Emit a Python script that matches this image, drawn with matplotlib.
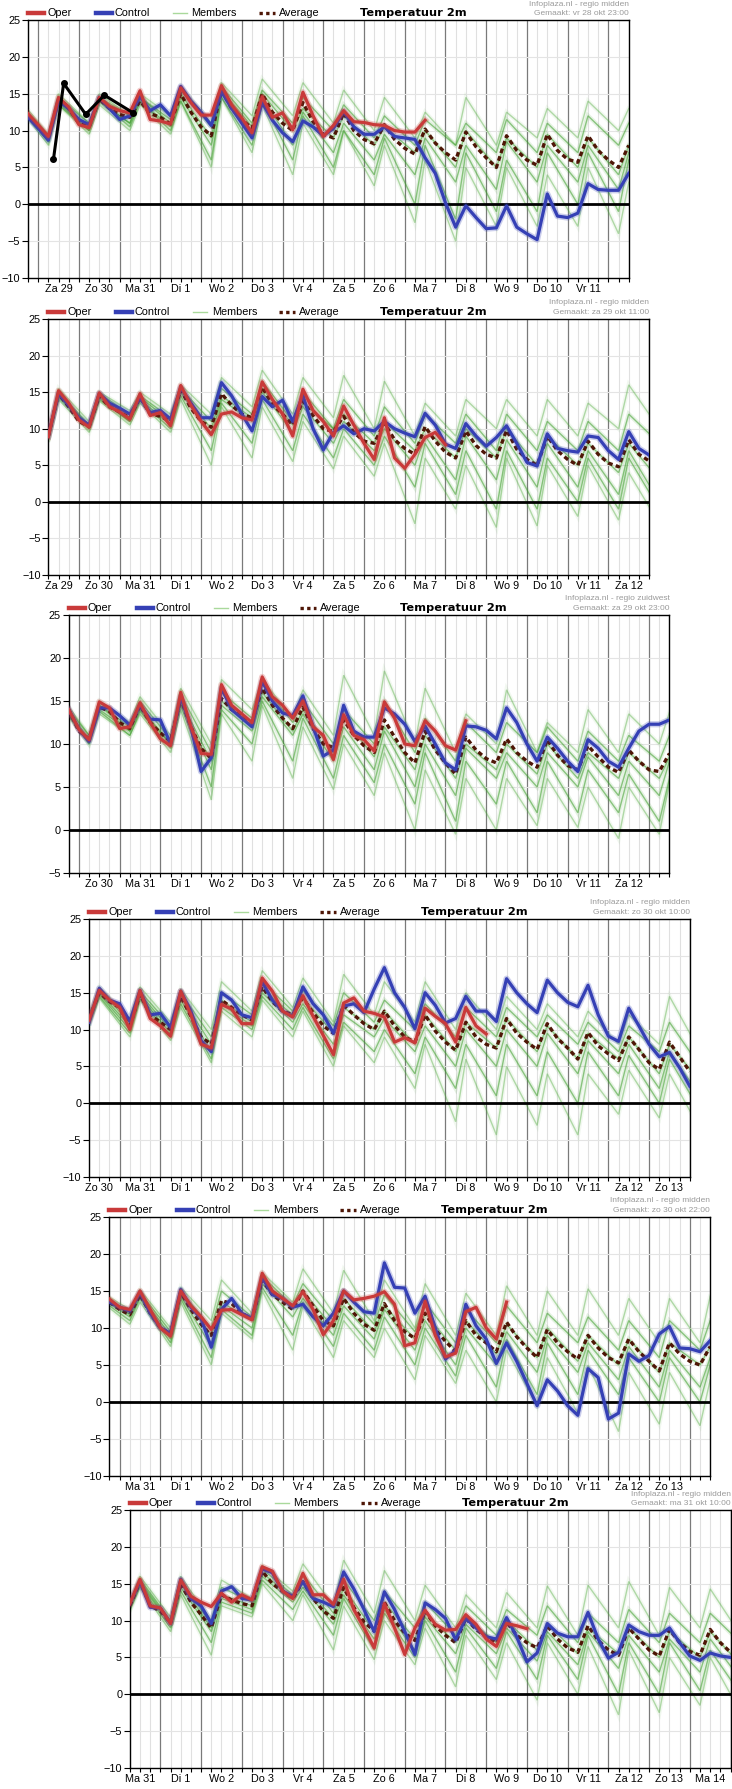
import numpy as np
import matplotlib
matplotlib.use("Agg")
import matplotlib.pyplot as plt
from matplotlib import font_manager as fm
from matplotlib.lines import Line2D

W, H, DPI = 732, 1789, 100


def pick_font(*names):
    for n in names:
        try:
            fm.findfont(fm.FontProperties(family=n), fallback_to_default=False)
            return n
        except ValueError:
            continue
    return "DejaVu Sans"


BODY = pick_font("Liberation Sans", "Arial", "DejaVu Sans")
plt.rcParams["font.family"] = [BODY, "DejaVu Sans"]

# ---- shared axis info (hours since Za 29 00:00) ----
day_labels = ["Za 29", "Zo 30", "Ma 31", "Di 1", "Wo 2", "Do 3", "Vr 4", "Za 5", "Zo 6",
              "Ma 7", "Di 8", "Wo 9", "Do 10", "Vr 11", "Za 12", "Zo 13", "Ma 14"]
run_start = [-6, 6, 18, 30, 42, 54]          # first 6-hourly step of each run
y_bottom = [-10, -10, -5, -10, -10, -10]
regions = ["regio midden", "regio midden", "regio zuidwest", "regio midden", "regio midden", "regio midden"]
made = ["vr 28 okt 23:00", "za 29 okt 11:00", "za 29 okt 23:00", "zo 30 okt 10:00",
        "zo 30 okt 22:00", "ma 31 okt 10:00"]
member_first_day = [-1, 0, 0, 1, 1, 2]       # members given as (06h, 12h) pairs per day

# ---- run 1 : vr 28 okt 23:00 ----
oper_1 = [12.3, 10.8, 9.2, 14.5, 13.2, 10.8, 10.4, 14.5, 13.3, 12.7, 12.4, 15.4, 11.5, 11.3, 10.9, 15.8,
          13.8, 12.1, 12.1, 16.1, 13.5, 11.7, 9.7, 14.6, 11.8, 12.4, 10.1, 15.2, 12, 9.2, 10.7, 12.7,
          11.2, 11.1, 10.8, 10.7, 10, 9.8, 9.8, 11.4]
ctrl_1 = [11.8, 10.3, 8.7, 14, 13, 11.5, 10.8, 14.5, 13, 11.5, 12, 14.6, 12.7, 13.5, 12, 16, 14, 12.5,
          10.7, 15.3, 13, 11, 9, 13.8, 11.4, 9.7, 8.5, 11.3, 10.5, 9.3, 10.3, 12.6, 10.5, 9.5, 9.5, 10.5,
          9.2, 9, 8.8, 6.3, 4.2, 0.2, -3.1, -0.2, -1.8, -3.3, -3.2, -0.2, -3.1, -4, -4.8, 1.4, -1.6,
          -1.8, -1.2, 2.8, 2, 1.9, 1.9, 4.2]
avg_1 = [12, 10.5, 9, 14.2, 13, 11, 10.5, 14.3, 13, 12.2, 11.8, 14, 12.3, 11.8, 10.9, 15, 12.5, 10.5,
         9.3, 15.5, 13, 11.5, 10.3, 15, 12.5, 11, 10, 13.8, 11.2, 9.5, 9, 12.4, 10, 8.8, 8.2, 10.8, 8.8,
         7.6, 6.8, 10.2, 8.3, 7, 6, 9.8, 7.8, 6.3, 5, 9.3, 7.3, 6, 5.3, 9.5, 7.3, 6.1, 5.7, 9.3, 7.3,
         6, 5, 8]
members_1 = [
    [10, 14.5, 9.5, 15, 11, 15, 12, 15, 12, 16, 11, 16.5, 12, 17, 12, 16.5, 11, 15.5, 10, 14.5, 9, 12.5, 8, 14.5, 8, 12.5, 9, 13, 9, 14, 10, 13],
    [10, 14, 9, 14.5, 11, 14.5, 12, 14.5, 11.5, 15.5, 10.5, 16, 11, 15.5, 11, 14.5, 10, 13.5, 9, 12, 8, 11.5, 8, 11, 7, 11.5, 7, 11, 7, 12, 8, 11],
    [10, 14, 9, 14, 10.5, 14, 11, 14.5, 11, 15, 9, 15.5, 10.5, 15, 10, 13, 9, 12, 8, 10.5, 7, 10, 5, 10, 5, 9, 5, 9.5, 5, 9, 4, 8],
    [10, 13.5, 8.5, 13.8, 10, 14, 11, 14, 10.5, 14.5, 8, 15, 9.5, 14.5, 8, 12.5, 7, 11, 6, 9.5, 4, 9, 3, 8, 2, 8.5, 3, 8, 3, 8, 2, 7],
    [10, 13.5, 8.5, 13.5, 10, 14, 10.5, 14, 10, 14, 6, 14.5, 8, 14, 6, 12, 5, 10, 4, 9, 0, 8, -2, 7, -1, 6, -1, 7, 0, 7, -1, 6],
    [10, 13.5, 8, 13.5, 9.5, 13.5, 10, 13.5, 9.5, 14, 5, 14.5, 7, 13.5, 4, 11, 4, 10, 2.5, 8, -2.5, 6, -5, 5, -3, 5, -3, 4, -3, 5, -4, 3],
]
obs_hours_1 = [9, 15, 28, 39, 56]
obs_temp_1 = [6.1, 16.4, 12.2, 14.8, 12.4]

# ---- run 2 : za 29 okt 11:00 ----
oper_2 = [8.9, 15.2, 13.5, 11.2, 10.2, 14.9, 13, 12.3, 11.3, 14.8, 11.8, 12.2, 10.4, 15.9, 13.2, 11, 9.2,
          12, 12.3, 11.5, 11.2, 16.4, 14, 12, 9, 15.4, 12.5, 11, 9, 13.1, 10.5, 8, 5.8, 11.5, 6, 4.6, 6.5,
          8.8, 9.5, 7.8]
ctrl_2 = [9, 14.8, 13.2, 11.5, 10.5, 14.8, 13.5, 12.8, 12, 14.2, 12.2, 12.5, 11.3, 15.6, 13.5, 11.5, 11.5,
          16.3, 14.5, 12, 9.7, 14.4, 13, 13.9, 11, 14.6, 10, 7.1, 9.5, 10.4, 9.3, 10, 9.7, 11, 10, 9.4, 8.9,
          12.1, 10.5, 7.9, 7.3, 10.7, 9, 7.6, 8.8, 10.4, 8, 5.4, 4.9, 9.3, 7.3, 7, 6.8, 9, 8.8, 7, 5.8,
          9.6, 7.3, 6.4]
avg_2 = [9, 14.8, 13, 11, 10.3, 14.5, 13, 12.3, 11.5, 14.3, 12, 11.7, 11, 15.3, 12.8, 11, 10.2, 14.8,
         13.2, 12, 11.5, 15.7, 13.3, 12, 10.5, 13.8, 11.8, 10, 9.6, 11.7, 9.5, 8.3, 8, 10.8, 8.5, 7.3, 6.5,
         10.3, 8.3, 6.8, 6, 9.7, 7.7, 6.5, 6, 9.8, 7.2, 5.8, 5, 9, 7, 5.8, 5, 8.3, 6.5, 5.3, 4.8, 8.5,
         6.5, 5.6]
members_2 = [
    [9.5, 15.5, 11, 15, 12.5, 15, 12, 16, 12, 17, 13, 18, 12, 17, 11.5, 17.3, 10, 16.5, 9, 13.5, 9, 14, 10, 14, 9, 14, 9, 13.5, 10, 16, 10, 15],
    [9, 15, 10.5, 14.8, 12, 14.5, 11.5, 15.5, 11, 15.5, 12, 16.5, 11, 15, 10, 14, 9, 13, 8, 12, 8, 12, 7, 12, 7, 11, 7, 11, 7, 12, 8, 12],
    [9, 14.8, 10.3, 14.5, 11.5, 14.3, 11, 15.3, 10, 14.5, 11.5, 15.5, 10.5, 13.5, 10, 12, 8, 11, 7, 10, 6, 10, 6, 10, 5, 9, 5, 8, 4, 8, 3, 7],
    [8.5, 14.5, 10, 14.2, 11, 14, 10.5, 15, 9, 14, 11, 15, 9.5, 13, 8, 11, 7, 10, 5, 9, 3, 9, 3, 8.5, 2, 8, 2, 7, 1, 7, 0, 5],
    [8.5, 14.3, 10, 14, 11, 13.8, 10, 14.5, 7, 13.5, 8, 14, 7, 12, 6, 10, 5, 9, 2, 8, 1, 7, -1, 7, -1, 6, 0, 6, -1, 6, -1, 5],
    [8.5, 14, 9.5, 13.8, 10.5, 13.5, 9.5, 14, 5, 13, 6, 13, 5.5, 11, 4.5, 9, 3.5, 8, -3, 6, -1, 5, -3.5, 6, -3.3, 5, -2, 5, -2.5, 4, -3, 3],
]

# ---- run 3 : za 29 okt 23:00 (zuidwest) ----
oper_3 = [14, 11.7, 10.5, 14.9, 14.2, 11.8, 12, 14.8, 12.5, 10.6, 9.8, 16, 12, 8.9, 8.8, 16.9, 14.5, 13.5,
          12.5, 17.8, 15.5, 14.5, 13, 15, 12, 11, 8.2, 13.4, 11, 10.5, 9.2, 14.9, 13, 10, 9.8, 12.7, 11.5,
          9.8, 9.3, 12.7]
ctrl_3 = [14, 11.7, 10.3, 14.2, 14.2, 13.3, 12.2, 14.5, 12.9, 12.8, 10, 15.5, 12, 6.8, 8.4, 16.5, 14, 13,
          12, 17.3, 15, 13.6, 13.3, 15.6, 12, 8.6, 9.3, 14.5, 11.5, 10.8, 10.8, 14.2, 13.5, 12.3, 10.3, 12.1,
          10, 7.8, 7, 12.1, 12, 11.6, 10.6, 14.2, 12.5, 10, 8, 10.8, 9.5, 8, 6.8, 10.5, 9.5, 8, 7.3, 9.5,
          11.5, 12.3, 12.3, 12.8]
avg_3 = [14, 11.5, 10.6, 14.3, 13.8, 12.5, 11.8, 14.5, 12.5, 11.3, 10.3, 15.3, 12, 9.5, 8.3, 15.3, 14,
         13.3, 12.5, 16.5, 14.5, 13, 11.8, 14.3, 11.8, 10, 9.6, 12.8, 11, 9.8, 9, 12.8, 10.8, 9, 7.8, 11.5,
         9.3, 7.8, 6.5, 10.8, 9.3, 8.3, 7.8, 10.6, 9, 8, 7.3, 10.5, 8.7, 7.5, 7, 9.8, 8.5, 7.3, 6.7, 9.3,
         8, 7, 6.8, 8.9]
members_3 = [
    [9.5, 16, 11, 15, 12.5, 15.5, 11, 16.5, 10, 17.5, 14, 17.5, 13, 16.3, 11, 18, 11, 18.5, 10, 16.5, 9, 13.5, 10, 16.3, 9, 12.5, 9, 14, 9, 13.5, 10, 13.7],
    [9, 15.5, 11, 14.5, 12, 15, 10.5, 15.8, 9, 16, 13, 17, 12.5, 15, 10, 14, 10, 15, 9, 13, 8, 12.5, 9, 12.5, 9, 12, 8, 11.5, 8, 11, 8, 11],
    [9, 15.3, 10.5, 14.5, 11.5, 14.3, 10, 15, 8, 15, 12, 16, 11.5, 14, 9, 13, 8.5, 12, 7, 11, 6, 10, 7, 10, 6.5, 10, 6, 9, 6, 9, 6, 8.5],
    [8.8, 15, 10.3, 14, 11.5, 14, 10, 14.8, 7, 14.5, 11.5, 15.5, 11, 13.5, 8, 12, 7, 11.5, 5, 10, 4, 9.5, 6, 9, 5, 9, 5, 8.5, 4, 8, 4, 8],
    [8.5, 15, 10, 13.8, 11, 13.8, 9.5, 14.5, 5, 14, 10, 15, 8, 13, 6, 11, 5.5, 10, 3, 9, 1, 8, 3, 8, 2, 8, 2, 7, 2, 6.5, 1, 6],
    [8.5, 14.8, 10, 13.5, 11, 13.5, 9, 14, 3.5, 13.5, 8, 14.5, 6, 12, 4.7, 10, 4, 9, 0, 7, -0.5, 6, 0, 6, 0.5, 6, 0.3, 5, -1, 5, -0.5, 5.5],
]

# ---- run 4 : zo 30 okt 10:00 ----
oper_4 = [11.3, 15.3, 14, 13, 10, 15.3, 11.5, 10.5, 9.1, 15.2, 12, 8, 7.5, 13.4, 12.8, 10.8, 10.8, 17, 15.2,
          12.5, 11.7, 14.6, 11.8, 9.2, 6.6, 13.6, 14.3, 12.5, 12.2, 11.7, 8.3, 8.9, 8.2, 12.9, 11.8, 10.8,
          8.3, 13, 10.5, 9.4]
ctrl_4 = [11, 15.6, 14, 13.5, 11.1, 15.3, 12, 12.2, 10.3, 15.2, 12.5, 8.5, 7, 15, 14, 12, 11.6, 16.5, 14,
          12.5, 11.8, 15.8, 13.5, 12, 9.5, 13.2, 13.5, 12.3, 15.5, 18.4, 15, 13, 10.1, 15, 13.3, 10.9, 11.5,
          14.5, 12.5, 12.5, 11.1, 16.9, 15, 13.5, 12.3, 16.7, 15, 13.7, 13.1, 16, 12, 9.1, 8.4, 12.9, 10.5,
          8, 6.3, 6.9, 4.8, 2.3]
avg_4 = [11.5, 15, 13.8, 13, 10.5, 14.8, 12, 11, 10, 14.5, 11.8, 9, 8, 14, 13, 12, 11.3, 15.8, 13.8, 12.5,
         12, 14.3, 12.3, 10.5, 9.5, 13.3, 12, 10.8, 10, 12.5, 10.5, 9, 8.3, 12, 9.8, 8.3, 7.2, 11, 9, 8,
         7.5, 11.5, 9.5, 8.3, 7.3, 10.8, 8.8, 7.5, 6, 9.6, 7.8, 6.7, 5.8, 9, 7.3, 5.5, 4.6, 8.3, 6.3, 4.3]
members_4 = [
    [12, 15.8, 11.5, 15.8, 11, 15.5, 10, 16.5, 12.5, 18, 13, 17, 11, 17.5, 12, 16.5, 11, 16.5, 10, 15, 10, 14.5, 10, 13.5, 9, 12.5, 8, 12, 8, 14.5, 7, 12],
    [11.5, 15.3, 11, 15.2, 10.5, 15, 9, 15, 12, 16.5, 12.5, 15.3, 10.5, 15, 11, 14, 10, 13.5, 9, 13, 9, 13, 9, 12, 8, 11, 7, 10.5, 7, 11, 5, 10],
    [11.3, 15, 10.5, 14.8, 10, 14.5, 8, 14, 11, 15.5, 12, 14.3, 9.5, 13, 10, 12.5, 8, 12, 7, 11, 7.5, 11.5, 7, 10.5, 6, 9.5, 6, 9, 4, 8, 3, 7],
    [11, 14.8, 10, 14.5, 9.5, 14, 7, 13.5, 10.5, 15, 11, 13.5, 8, 12, 9, 11.5, 7, 10.5, 5, 10, 5, 10, 5, 9.5, 4, 8.5, 4, 8, 2, 7, 1, 6],
    [10.8, 14.5, 9.5, 14.2, 9, 13.5, 6, 13, 10, 14.5, 10, 13, 6, 11, 7, 10, 4, 9, 2, 8, 1, 8, 1, 7, 0, 7, 1, 6.5, 0, 6, -1, 5],
    [10.5, 14.3, 9, 14, 8.5, 13, 5.5, 12.5, 9, 14, 9, 12.5, 5, 10.5, 5.5, 9, 2, 8, -2.5, 6, -4.3, 5, -3, 4, -4.3, 4, -1.5, 4.5, -2, 4, -3.5, 3],
]

# ---- run 5 : zo 30 okt 22:00 ----
oper_5 = [13.9, 12.8, 12.5, 15, 12.5, 10, 8.9, 15, 13, 11.5, 9.8, 12.4, 12.5, 11.8, 11.1, 17.4, 15, 14, 13,
          14.9, 12.5, 9.1, 11, 15, 13.8, 14, 14.3, 14.9, 13.2, 7.6, 8, 13.6, 9, 6.1, 6.6, 12.2, 12.8, 10,
          8.5, 13.5]
ctrl_5 = [13.5, 12.8, 12.3, 14.8, 12, 10, 9.3, 15.2, 12.8, 11.3, 7.4, 12.5, 14, 12, 11.3, 16.8, 14.5, 14,
          12.8, 13.2, 11.5, 10.3, 12, 15, 13.5, 12.2, 12, 18.8, 15.5, 15.4, 12, 14.3, 10, 5.8, 7, 13.2, 10.3,
          8.5, 5.2, 8, 5.5, 2.5, -0.5, 3, 1.5, -0.5, -1.8, 4.5, 3.3, -2.3, -1.5, 6.5, 5.5, 6.3, 9.2, 10.2,
          7.3, 7.2, 6.8, 8.3]
avg_5 = [13.5, 12.5, 11.8, 14.5, 12, 10, 9.2, 14.8, 12.5, 10.5, 9, 13.7, 13.3, 12, 11.2, 16.5, 14.5, 13.5,
         12.5, 15, 13, 11, 10.3, 14, 12, 10.5, 9.7, 13.3, 11, 9.5, 8.6, 12, 9.8, 8.2, 6.8, 11, 9, 8, 6.8,
         10.8, 8.8, 7.3, 6, 9.8, 8, 6.8, 5.8, 9, 7.3, 6, 5.3, 8.5, 6.8, 5.5, 4.2, 8, 6.5, 5.5, 5, 7.5]
members_5 = [
    [11.5, 15, 12.5, 15.2, 10, 15.5, 11, 16.5, 12, 17.5, 13.5, 18, 12, 17.8, 11, 16.5, 10, 16, 9, 14.7, 9, 15.7, 9, 15, 9, 15.3, 9, 14, 8, 14, 8, 14.3],
    [11.2, 14.7, 12, 14.8, 9.5, 15, 10, 15, 11.5, 17, 13, 16, 11, 15, 10.5, 14.5, 9.5, 13.5, 8, 12.5, 8, 13, 8, 12, 8, 11.5, 7, 11, 6, 11, 7, 11],
    [11, 14.4, 11.8, 14.5, 9, 14.7, 9, 13.5, 11, 16.5, 12.5, 15, 10, 14, 9.5, 13, 8.5, 12, 7, 11, 6.5, 10.5, 6, 10, 5.5, 9, 5, 8.5, 4, 8, 5, 7.5],
    [10.8, 14.2, 11.5, 14.2, 8.5, 14.3, 7.5, 13, 10, 16, 11.5, 14, 9, 13, 8.5, 12.5, 7, 11, 5, 10, 5, 9.5, 4, 9, 4, 8, 3, 7.5, 2, 7, 2, 6],
    [10.5, 14, 11, 14, 8, 14, 6, 12.5, 9, 15.5, 9, 13.5, 7.5, 12, 7, 11.5, 5, 10, 3.5, 9, 2, 8.5, 1, 8, 1, 7, 1, 6, 0, 6, 0, 5],
    [10.3, 13.8, 10.5, 13.5, 7.5, 13.5, 5, 12, 8.5, 15, 7, 13, 6, 11, 6, 10, 3, 9, 2.5, 7, 0, 7, -0.5, 6, -1.5, 5, -4, 4, -3, 4, -3.2, 3],
]

# ---- run 6 : ma 31 okt 10:00 ----
oper_6 = [12.3, 15.6, 12, 11.7, 9.6, 15.5, 13.3, 12.5, 11.9, 13.7, 12.5, 13.5, 12.8, 17.3, 16.7, 14, 13, 16.4,
          13.5, 13.5, 12.2, 15.6, 11.5, 9, 6.3, 12.3, 9, 5.4, 9, 11.4, 9.5, 8.7, 8.8, 10.8, 9.5, 7.5, 6.5,
          9.6, 9.3, 8.9]
ctrl_6 = [12.3, 15.3, 11.8, 11.7, 9.6, 15.6, 13, 12, 9.6, 14, 14.6, 13, 12.8, 17, 16.5, 14, 13.3, 15.3, 13,
          12.5, 11.9, 16.6, 14.3, 11.5, 8.5, 13.9, 11.5, 8.5, 5.4, 12.4, 11.5, 10.3, 7.4, 10.3, 9, 7.8, 7.5,
          10.4, 7.8, 4.4, 5.6, 9.6, 8.3, 7.8, 7.8, 11.1, 7.5, 4.9, 5.7, 9.4, 8.5, 8, 8, 9, 7, 5.2, 4.6,
          5.6, 5.2, 5]
avg_6 = [12, 15.3, 12, 11.3, 9.7, 15, 12.5, 10.8, 9, 13.5, 12.8, 12.3, 12, 16.7, 15, 14, 13, 15.3, 13, 11.3,
         10.3, 14.5, 11.8, 9.8, 8.6, 12.5, 10, 8.3, 7.3, 11.3, 9.3, 8, 7, 10.3, 8.8, 7.8, 7, 9.8, 8, 7, 6.3,
         9.3, 7.5, 6.3, 5.7, 9.3, 7.3, 6, 5.3, 9, 7.5, 6, 5.2, 8.8, 7, 5.8, 5.3, 8.8, 7, 5.7]
members_6 = [
    [12.5, 16, 10.5, 16, 10, 15.5, 13, 17.5, 14, 17.7, 12, 18.2, 11, 16.8, 10, 14.8, 9, 13.5, 9, 13.8, 9, 14.7, 8, 14.8, 9, 15.3, 8, 14.5, 9, 14.3, 8, 13],
    [12.3, 15.6, 10, 15.5, 9.5, 14.5, 12.5, 17, 13.5, 16.3, 11, 15.5, 10, 14, 9, 12.5, 8, 12, 8, 11.5, 8, 12, 7, 11, 7, 11.5, 7, 11, 7, 11, 7, 10.5],
    [12, 15.3, 9.7, 15, 9, 13.5, 12, 16.5, 13, 15, 10.3, 14.5, 8.5, 12.5, 7.5, 11, 7, 10.5, 7, 10, 6, 9.5, 5.5, 9, 5.5, 9, 5, 8.5, 5, 8.5, 4, 8],
    [11.8, 15, 9.5, 14.5, 8.5, 13, 11.5, 16, 12.5, 14.5, 9.5, 13.5, 7.5, 11.5, 6, 10.5, 5.5, 9.5, 5.5, 9, 4.5, 8.5, 4, 8.5, 3.5, 8, 3, 7.5, 3, 7.5, 2, 6.5],
    [11.5, 14.7, 9, 14, 7, 12.5, 11, 15.5, 11.5, 14, 8, 13, 6, 11, 5, 10, 3, 9, 3.5, 8.5, 2, 8, 2, 8, 0, 7, 0, 7, 0.5, 6, 0, 5],
    [11.3, 14.5, 8.5, 13.5, 5.3, 12, 10.5, 15, 10, 13.5, 6, 12, 4.7, 10, 4, 9, 1, 8, 2, 7, -0.8, 7, 0, 6.5, -2.8, 6, -2.5, 5, -1.5, 5, -2.5, 4],
]

runs = [
    (oper_1, ctrl_1, avg_1, members_1),
    (oper_2, ctrl_2, avg_2, members_2),
    (oper_3, ctrl_3, avg_3, members_3),
    (oper_4, ctrl_4, avg_4, members_4),
    (oper_5, ctrl_5, avg_5, members_5),
    (oper_6, ctrl_6, avg_6, members_6),
]

# ---- layout in pixels ----
panel_top = [20, 319, 615, 919, 1217, 1510]
panel_bottom = [278, 575, 873, 1177, 1476, 1768]
SPAN = 354
PX_PER_H = 1.697

C_OPER = "#c93a3a"
C_CTRL = "#3540b5"
C_MEMB = "#49a936"
C_MEMB_CORE = "#3c9e2a"
C_AVG = "#4e1606"


def fx(px):
    return px / W


def fy(py):
    return 1 - py / H


fig = plt.figure(figsize=(W / DPI, H / DPI), dpi=DPI)
fig.patch.set_facecolor("white")

for p, (oper, ctrl, avg, members) in enumerate(runs):
    h0 = run_start[p]
    h1 = h0 + SPAN
    left = 28 + PX_PER_H * (h0 + 6)
    width = PX_PER_H * SPAN
    top, bottom = panel_top[p], panel_bottom[p]
    ax = fig.add_axes([fx(left), fy(bottom), width / W, (bottom - top) / H])
    ax.set_xlim(h0, h1)
    ax.set_ylim(y_bottom[p], 25)

    # grid: 6-hourly light lines, darker line at midnight
    for h in range(h0, h1 + 1, 6):
        if h % 24 == 0:
            ax.axvline(h, color="#7a7a7a", lw=0.9, zorder=1)
        else:
            ax.axvline(h, color="#e0e0e0", lw=0.8, zorder=1)
    for v in range(y_bottom[p], 26, 5):
        ax.axhline(v, color="#e4e4e4", lw=0.8, zorder=1)

    # ensemble members: soft wide stroke + thin stroke, inner members stronger
    d0 = member_first_day[p]
    for i, m in enumerate(members):
        days = d0 + np.arange(len(m) // 2)
        hrs = np.ravel(np.column_stack([days * 24 + 6, days * 24 + 12]))
        inner = 0 < i < len(members) - 1
        col = C_MEMB_CORE if inner else C_MEMB
        ax.plot(hrs, m, color=col, lw=3.2, alpha=0.13 if inner else 0.07, zorder=2,
                solid_joinstyle="miter")
        ax.plot(hrs, m, color=col, lw=1.0, alpha=0.55 if inner else 0.4, zorder=2.1,
                solid_joinstyle="miter")

    ax.axhline(0, color="black", lw=2.0, zorder=3)

    t = h0 + 6 * np.arange(len(ctrl))
    ax.plot(t, avg, color=C_AVG, lw=2.4, linestyle=(0, (1.4, 1.0)), zorder=3.5)
    ax.plot(t, ctrl, color=C_CTRL, lw=4.5, alpha=0.25, zorder=4)
    ax.plot(t, ctrl, color=C_CTRL, lw=2.3, zorder=4.1)
    to = h0 + 6 * np.arange(len(oper))
    ax.plot(to, oper, color=C_OPER, lw=4.5, alpha=0.25, zorder=4.5)
    ax.plot(to, oper, color=C_OPER, lw=2.3, zorder=4.6)
    if p == 0:
        ax.plot(obs_hours_1, obs_temp_1, color="black", lw=2.2, marker="o", ms=4, zorder=6)

    # axes / ticks
    noons = [24 * d + 12 for d in range(len(day_labels)) if h0 < 24 * d + 12 < h1 - 1]
    ax.set_xticks(noons)
    ax.set_xticklabels([day_labels[(n - 12) // 24] for n in noons])
    ax.set_xticks(range(h0, h1 + 1, 6), minor=True)
    ax.tick_params(axis="x", which="both", length=3, width=0.8, direction="out",
                   labelsize=7.8, pad=1.5, colors="black")
    ax.set_yticks(range(y_bottom[p], 26, 5))
    ax.tick_params(axis="y", length=4, width=0.8, direction="out", labelsize=7.8, pad=1.5)
    for s in ax.spines.values():
        s.set_color("black")
        s.set_linewidth(1.0)
    ax.set_facecolor("white")

    # legend row and header
    ly = top - 6.8
    handles = [
        (0, 16, 19, "Oper", dict(color=C_OPER, lw=3.2)),
        (68, 84, 86.5, "Control", dict(color=C_CTRL, lw=3.2)),
        (145, 159, 163.5, "Members", dict(color="#a9d99b", lw=1.0)),
        (231, 247, 251, "Average", dict(color=C_AVG, lw=2.4, linestyle=(0, (1, 1)))),
    ]
    for a, b, tx, label, kw in handles:
        fig.add_artist(Line2D([fx(left + a), fx(left + b)], [fy(ly), fy(ly)],
                              transform=fig.transFigure, **kw))
        fig.text(fx(left + tx), fy(ly), label, fontsize=7.8, ha="left", va="center")
    fig.text(fx(left + 385), fy(ly), "Temperatuur 2m", fontsize=8.2, fontweight="bold",
             family="DejaVu Sans", ha="center", va="center")
    fig.text(fx(left + width), fy(top - 16), "Infoplaza.nl - " + regions[p], fontsize=6,
             color="#9a9a9a", ha="right", va="center")
    fig.text(fx(left + width), fy(top - 6.8), "Gemaakt: " + made[p], fontsize=6,
             color="#9a9a9a", ha="right", va="center")

fig.savefig("out.png", dpi=DPI, facecolor="white")
